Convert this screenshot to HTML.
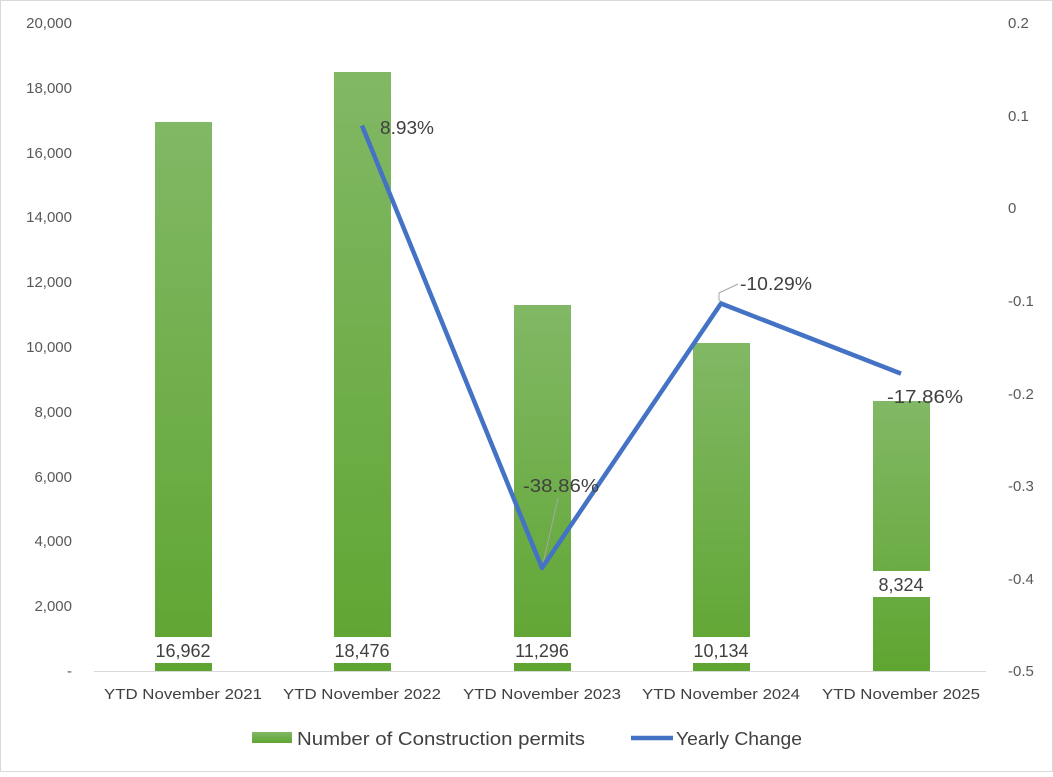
<!DOCTYPE html>
<html><head><meta charset="utf-8"><style>
body{margin:0;background:#fff;}
svg text{font-family:"Liberation Sans",Arial,sans-serif;}
</style></head><body>
<svg width="1053" height="772" viewBox="0 0 1053 772" xmlns="http://www.w3.org/2000/svg">
<defs>
<linearGradient id="g" x1="0" y1="0" x2="0" y2="1">
<stop offset="0" stop-color="#81b865"/><stop offset="1" stop-color="#5fa531"/>
</linearGradient>
</defs>
<rect x="0.5" y="0.5" width="1052" height="771" fill="#fff" stroke="#d9d9d9"/>
<g font-size="15" fill="#595959" text-anchor="end">
<text x="72" y="28">20,000</text>
<text x="72" y="93">18,000</text>
<text x="72" y="158">16,000</text>
<text x="72" y="222">14,000</text>
<text x="72" y="287">12,000</text>
<text x="72" y="352">10,000</text>
<text x="72" y="417">8,000</text>
<text x="72" y="482">6,000</text>
<text x="72" y="546">4,000</text>
<text x="72" y="611">2,000</text>
<text x="72" y="676">-</text>
</g>
<g font-size="15" fill="#595959" text-anchor="start">
<text x="1008" y="28">0.2</text>
<text x="1008" y="121">0.1</text>
<text x="1008" y="213">0</text>
<text x="1008" y="306">-0.1</text>
<text x="1008" y="399">-0.2</text>
<text x="1008" y="491">-0.3</text>
<text x="1008" y="584">-0.4</text>
<text x="1008" y="676">-0.5</text>
</g>
<g fill="url(#g)">
<rect x="155" y="122" width="57" height="549"/>
<rect x="334" y="72" width="57" height="599"/>
<rect x="514" y="305" width="57" height="366"/>
<rect x="693" y="343" width="57" height="328"/>
<rect x="873" y="401" width="57" height="270"/>
</g>
<line x1="94" y1="671.5" x2="986" y2="671.5" stroke="#d9d9d9"/>
<g font-size="15" fill="#404040">
<text x="104" y="699" textLength="158" lengthAdjust="spacingAndGlyphs">YTD November 2021</text>
<text x="283" y="699" textLength="158" lengthAdjust="spacingAndGlyphs">YTD November 2022</text>
<text x="463" y="699" textLength="158" lengthAdjust="spacingAndGlyphs">YTD November 2023</text>
<text x="642" y="699" textLength="158" lengthAdjust="spacingAndGlyphs">YTD November 2024</text>
<text x="822" y="699" textLength="158" lengthAdjust="spacingAndGlyphs">YTD November 2025</text>
</g>
<g fill="#fff">
<rect x="150" y="637" width="67" height="26"/>
<rect x="329" y="637" width="67" height="26"/>
<rect x="509" y="637" width="67" height="26"/>
<rect x="688" y="637" width="67" height="26"/>
<rect x="873" y="571" width="57" height="26"/>
</g>
<g font-size="18" fill="#404040" text-anchor="middle">
<text x="183" y="657">16,962</text>
<text x="362" y="657">18,476</text>
<text x="542" y="657">11,296</text>
<text x="721" y="657">10,134</text>
<text x="901" y="591">8,324</text>
</g>
<line x1="542" y1="568" x2="558" y2="498" stroke="#a6a6a6"/>
<polyline points="723,303 719,300 719,293 738,284" fill="none" stroke="#a6a6a6"/>
<polyline points="362,125.5 542,568 721,303.5 901,373.6" fill="none" stroke="#4472c4" stroke-width="4.5" stroke-linejoin="round"/>
<g font-size="18" fill="#404040">
<text x="380" y="134" textLength="54" lengthAdjust="spacingAndGlyphs">8.93%</text>
<text x="523" y="492" textLength="76" lengthAdjust="spacingAndGlyphs">-38.86%</text>
<text x="740" y="290" textLength="72" lengthAdjust="spacingAndGlyphs">-10.29%</text>
<text x="887" y="403" textLength="76" lengthAdjust="spacingAndGlyphs">-17.86%</text>
</g>
<rect x="252" y="732" width="40" height="11" fill="url(#g)"/>
<text x="297" y="745" font-size="18" fill="#404040" textLength="288" lengthAdjust="spacingAndGlyphs">Number of Construction permits</text>
<line x1="631" y1="738" x2="673" y2="738" stroke="#4472c4" stroke-width="4.5"/>
<text x="676" y="745" font-size="18" fill="#404040" textLength="126" lengthAdjust="spacingAndGlyphs">Yearly Change</text>
</svg>
</body></html>
